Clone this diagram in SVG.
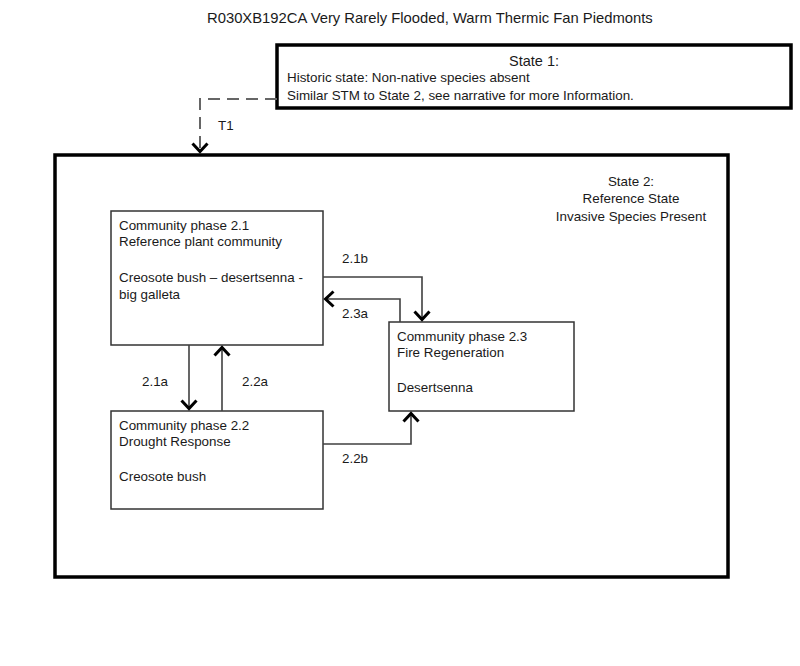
<svg xmlns="http://www.w3.org/2000/svg" width="800" height="666" viewBox="0 0 800 666">
<defs>
<style>
text{font-family:"Liberation Sans",Arial,sans-serif;fill:#1a1a1a;font-size:13.4px}
.title{font-size:14.8px}
.state{fill:#fff;stroke:#000;stroke-width:3.5}
.phase{fill:#fff;stroke:#333;stroke-width:1.5}
.conn{fill:none;stroke:#404040;stroke-width:1.6}
.dash{fill:none;stroke:#666;stroke-width:2;stroke-dasharray:12 7}
.mid{text-anchor:middle}
</style>
<marker id="arr" viewBox="0 0 12 18" refX="10" refY="9" markerWidth="12" markerHeight="18" markerUnits="userSpaceOnUse" orient="auto">
<path d="M1.5,1.5 L9.5,9 L1.5,16.5" fill="none" stroke="#000" stroke-width="3"/>
</marker>
</defs>
<rect width="800" height="666" fill="#fff"/>
<text id="title" class="title" x="207" y="23">R030XB192CA Very Rarely Flooded, Warm Thermic Fan Piedmonts</text>
<g id="state1">
<rect class="state" x="277" y="45" width="514" height="63"/>
<text class="mid" x="534" y="66" style="font-size:14.5px">State 1:</text>
<text x="287" y="82">Historic state: Non-native species absent</text>
<text x="287" y="100">Similar STM to State 2, see narrative for more Information.</text>
</g>
<g id="state2">
<rect class="state" x="55" y="155" width="673" height="422"/>
<text class="mid" x="631" y="186">State 2:</text>
<text class="mid" x="631" y="203">Reference State</text>
<text class="mid" x="631" y="221">Invasive Species Present</text>
</g>
<g id="phase21">
<rect class="phase" x="111" y="211" width="212" height="134"/>
<text x="119" y="230">Community phase 2.1</text>
<text x="119" y="246">Reference plant community</text>
<text x="119" y="282">Creosote bush – desertsenna -</text>
<text x="119" y="299">big galleta</text>
</g>
<g id="phase22">
<rect class="phase" x="111" y="411" width="212" height="98"/>
<text x="119" y="430">Community phase 2.2</text>
<text x="119" y="446">Drought Response</text>
<text x="119" y="481">Creosote bush</text>
</g>
<g id="phase23">
<rect class="phase" x="389" y="322" width="185" height="89"/>
<text x="397" y="341">Community phase 2.3</text>
<text x="397" y="357">Fire Regeneration</text>
<text x="397" y="392">Desertsenna</text>
</g>
<g id="connectors">
<path class="dash" d="M277,99 H200 V152" marker-end="url(#arr)"/>
<path class="conn" d="M323,277 H422 V320" marker-end="url(#arr)"/>
<path class="conn" d="M400,322 V299 H325" marker-end="url(#arr)"/>
<path class="conn" d="M189,345 V409" marker-end="url(#arr)"/>
<path class="conn" d="M222,411 V347" marker-end="url(#arr)"/>
<path class="conn" d="M323,444 H411 V413" marker-end="url(#arr)"/>
<text x="218" y="130">T1</text>
<text x="342" y="263">2.1b</text>
<text x="342" y="318">2.3a</text>
<text x="142" y="386">2.1a</text>
<text x="242" y="386">2.2a</text>
<text x="342" y="463">2.2b</text>
</g>
</svg>
